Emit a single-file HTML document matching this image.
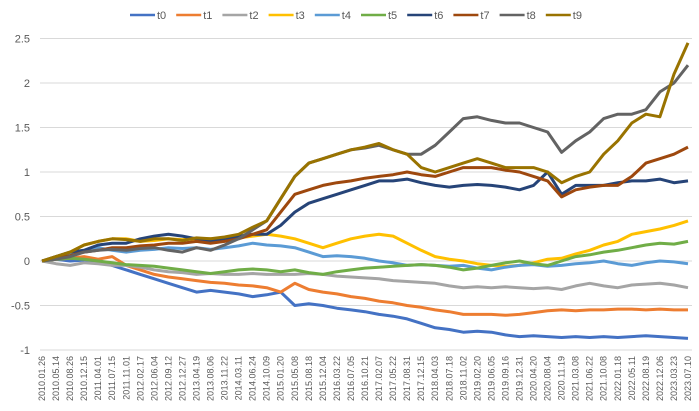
<!DOCTYPE html>
<html><head><meta charset="utf-8"><style>
body{margin:0;background:#fff;font-family:"Liberation Sans",sans-serif}
svg{display:block}
</style></head><body>
<svg id="chart" width="699" height="411"></svg>
<script>
const categories=["2010.01.26","2010.05.14","2010.08.26","2010.12.15","2011.04.01","2011.07.15","2011.11.01","2012.02.17","2012.06.04","2012.09.12","2012.12.27","2013.04.19","2013.08.06","2013.11.22","2014.03.11","2014.06.24","2014.10.09","2015.01.20","2015.05.08","2015.08.18","2015.12.04","2016.03.22","2016.07.05","2016.10.21","2017.02.07","2017.05.22","2017.08.31","2017.12.15","2018.04.03","2018.07.18","2018.11.02","2019.02.20","2019.06.05","2019.09.16","2019.12.31","2020.04.20","2020.08.04","2020.11.19","2021.03.08","2021.06.22","2021.10.08","2022.01.18","2022.05.11","2022.08.19","2022.12.06","2023.03.23","2023.07.10"];
const seriesNames=["t0","t1","t2","t3","t4","t5","t6","t7","t8","t9"];
const colors=["#4472C4","#ED7D31","#A5A5A5","#FFC000","#5B9BD5","#70AD47","#264478","#9E480E","#636363","#997300"];
const yTicks=[2.5,2,1.5,1,0.5,0,-0.5,-1];
const t0=[0,0.02,0,0.01,0,-0.05,-0.1,-0.15,-0.2,-0.25,-0.3,-0.35,-0.33,-0.35,-0.37,-0.4,-0.38,-0.35,-0.5,-0.48,-0.5,-0.53,-0.55,-0.57,-0.6,-0.62,-0.65,-0.7,-0.75,-0.77,-0.8,-0.79,-0.8,-0.83,-0.85,-0.84,-0.85,-0.86,-0.85,-0.86,-0.85,-0.86,-0.85,-0.84,-0.85,-0.86,-0.87];
const t1=[0,0.02,0.03,0.05,0.02,0.05,-0.05,-0.1,-0.15,-0.18,-0.2,-0.22,-0.24,-0.25,-0.27,-0.28,-0.3,-0.35,-0.25,-0.32,-0.35,-0.37,-0.4,-0.42,-0.45,-0.47,-0.5,-0.52,-0.55,-0.57,-0.6,-0.6,-0.6,-0.61,-0.6,-0.58,-0.56,-0.55,-0.56,-0.55,-0.55,-0.54,-0.54,-0.55,-0.54,-0.55,-0.55];
const t2=[0,-0.03,-0.05,-0.02,-0.03,-0.05,-0.05,-0.07,-0.1,-0.12,-0.13,-0.15,-0.14,-0.15,-0.15,-0.14,-0.15,-0.15,-0.15,-0.14,-0.15,-0.17,-0.18,-0.19,-0.2,-0.22,-0.23,-0.24,-0.25,-0.28,-0.3,-0.29,-0.3,-0.29,-0.3,-0.31,-0.3,-0.32,-0.28,-0.25,-0.28,-0.3,-0.27,-0.26,-0.25,-0.27,-0.3];
const t3=[0,0.05,0.1,0.18,0.22,0.25,0.25,0.22,0.23,0.25,0.24,0.25,0.25,0.23,0.26,0.28,0.3,0.28,0.25,0.2,0.15,0.2,0.25,0.28,0.3,0.28,0.2,0.12,0.05,0.02,0,-0.03,-0.05,-0.06,-0.05,-0.02,0.02,0.03,0.08,0.12,0.18,0.22,0.3,0.33,0.36,0.4,0.45];
const t4=[0,0.03,0.08,0.12,0.15,0.12,0.1,0.12,0.13,0.15,0.14,0.15,0.13,0.15,0.17,0.2,0.18,0.17,0.15,0.1,0.05,0.06,0.05,0.03,0,-0.02,-0.05,-0.04,-0.05,-0.06,-0.05,-0.08,-0.1,-0.07,-0.05,-0.04,-0.06,-0.05,-0.03,-0.02,0,-0.03,-0.05,-0.02,0,-0.01,-0.03];
const t5=[0,0.02,0.03,0.02,0,-0.02,-0.04,-0.05,-0.06,-0.08,-0.1,-0.12,-0.14,-0.12,-0.1,-0.09,-0.1,-0.12,-0.1,-0.13,-0.15,-0.12,-0.1,-0.08,-0.07,-0.06,-0.05,-0.04,-0.05,-0.07,-0.1,-0.08,-0.05,-0.02,0,-0.03,-0.05,0,0.05,0.07,0.1,0.12,0.15,0.18,0.2,0.19,0.22];
const t6=[0,0.05,0.1,0.12,0.18,0.2,0.2,0.25,0.28,0.3,0.28,0.25,0.22,0.25,0.28,0.3,0.3,0.4,0.55,0.65,0.7,0.75,0.8,0.85,0.9,0.9,0.92,0.88,0.85,0.83,0.85,0.86,0.85,0.83,0.8,0.85,1.0,0.75,0.85,0.85,0.85,0.88,0.9,0.9,0.92,0.88,0.9];
const t7=[0,0.03,0.06,0.1,0.12,0.15,0.15,0.17,0.18,0.2,0.2,0.22,0.2,0.22,0.25,0.3,0.35,0.55,0.75,0.8,0.85,0.88,0.9,0.93,0.95,0.97,1.0,0.97,0.95,1.0,1.05,1.05,1.05,1.02,1.0,0.95,0.9,0.72,0.8,0.83,0.85,0.85,0.95,1.1,1.15,1.2,1.28];
const t8=[0,0.02,0.05,0.1,0.12,0.13,0.12,0.14,0.15,0.12,0.1,0.15,0.12,0.18,0.25,0.35,0.45,0.7,0.95,1.1,1.15,1.2,1.25,1.27,1.3,1.25,1.2,1.2,1.3,1.45,1.6,1.62,1.58,1.55,1.55,1.5,1.45,1.22,1.35,1.45,1.6,1.65,1.65,1.7,1.9,2.0,2.2];
const t9=[0,0.05,0.1,0.18,0.22,0.25,0.24,0.22,0.25,0.25,0.23,0.26,0.25,0.27,0.3,0.38,0.45,0.7,0.95,1.1,1.15,1.2,1.25,1.28,1.32,1.25,1.2,1.05,1.0,1.05,1.1,1.15,1.1,1.05,1.05,1.05,1.0,0.88,0.95,1.0,1.2,1.35,1.55,1.65,1.62,2.1,2.45];
const allSeries=[t0,t1,t2,t3,t4,t5,t6,t7,t8,t9];

const NS="http://www.w3.org/2000/svg";
const svg=document.getElementById('chart');
const X0=42,X1=688,Y0=261,YS=89;
const xPos=i=>X0+i*(X1-X0)/(categories.length-1);
const yPos=v=>Y0-v*YS;
function mk(tag,attrs,parent){const e=document.createElementNS(NS,tag);for(const k in attrs)e.setAttribute(k,attrs[k]);(parent||svg).appendChild(e);return e;}

const grid=mk('g',{});


const yAxis=mk('g',{});


yTicks.forEach(v=>{
  const l=mk('line',{x1:40,x2:692,y1:yPos(v),y2:yPos(v),stroke:'#d9d9d9','stroke-width':1},grid);
  
  
  const t=mk('text',{x:30,y:yPos(v)+4,'text-anchor':'end','font-size':11,fill:'#595959'},yAxis);
  
  
  t.textContent=String(v);
});
const xAxis=mk('g',{});


categories.forEach((c,i)=>{
  const x=xPos(i)+3,y=356;
  const t=mk('text',{x:x,y:y,transform:`rotate(-90 ${x} ${y})`,'text-anchor':'end','font-size':9,fill:'#595959'},xAxis);
  
  
  t.textContent=c;
});
allSeries.forEach((s,k)=>{
  const d=s.map((v,i)=>(i?'L':'M')+xPos(i).toFixed(1)+','+yPos(v).toFixed(1)).join(' ');
  const p=mk('path',{d:d,fill:'none',stroke:colors[k],'stroke-width':3,'stroke-linejoin':'round'});
  
  
});
const legend=mk('g',{});


seriesNames.forEach((n,k)=>{
  const lx=130+k*46.2;
  const g=mk('g',{},legend);
  
  
  mk('line',{x1:lx,x2:lx+25,y1:15,y2:15,stroke:colors[k],'stroke-width':2.5},g);
  const t=mk('text',{x:lx+27,y:19,'font-size':11,fill:'#595959'},g);
  t.textContent=n;
});
</script>
</body></html>
